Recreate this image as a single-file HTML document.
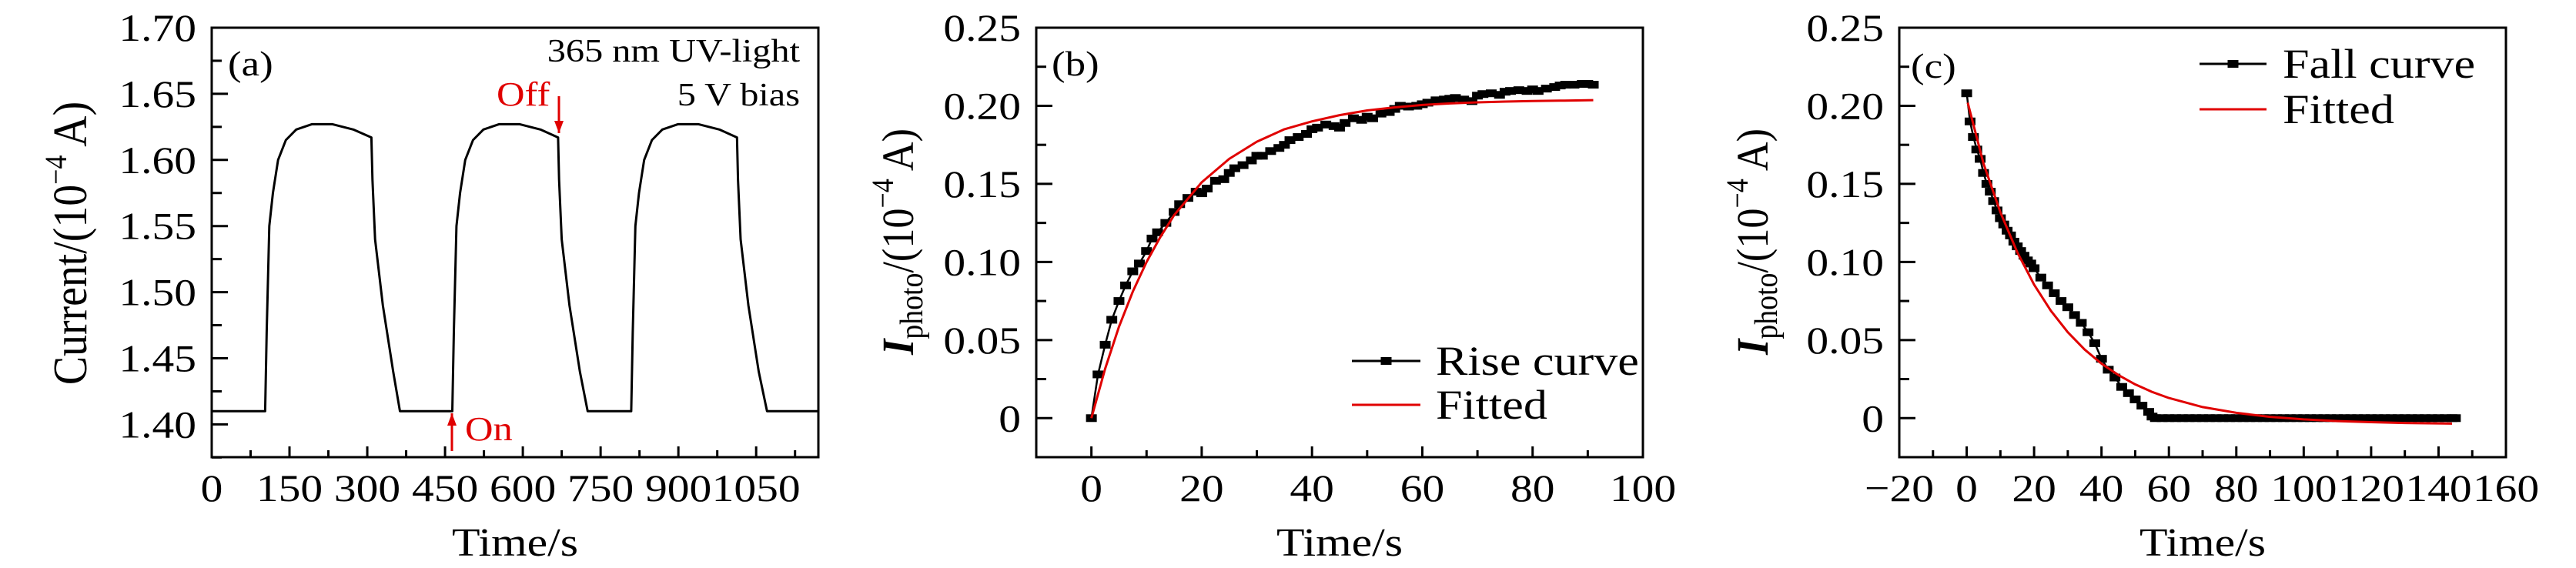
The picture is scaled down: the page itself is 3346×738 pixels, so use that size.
<!DOCTYPE html>
<html><head><meta charset="utf-8"><style>
html,body{margin:0;padding:0;background:#fff;}
svg{display:block;font-family:"Liberation Serif",serif;}
</style></head><body>
<svg id="fig" width="3346" height="738" viewBox="0 0 3346 738" xmlns="http://www.w3.org/2000/svg"></svg>
<script>
// ---- Panel (a) data ----
const aTime = [0,103,106,111,118,128,143,163,193,233,273,308,310,315,330,350,363,464,467,472,479,489,504,524,554,594,634,668,670,675,690,710,725,809,812,817,824,834,849,869,899,939,979,1013,1015,1020,1035,1055,1071,1170];
const aCurrent = [1.41,1.41,1.47,1.55,1.575,1.60,1.615,1.623,1.627,1.627,1.623,1.617,1.585,1.54,1.49,1.44,1.41,1.41,1.47,1.55,1.575,1.60,1.615,1.623,1.627,1.627,1.623,1.617,1.585,1.54,1.49,1.44,1.41,1.41,1.47,1.55,1.575,1.60,1.615,1.623,1.627,1.627,1.623,1.617,1.585,1.54,1.49,1.44,1.41,1.41];
const aXTicks = [0,150,300,450,600,750,900,1050];
const aYTicks = [1.40,1.45,1.50,1.55,1.60,1.65,1.70];
const aYTickLabels = ["1.40","1.45","1.50","1.55","1.60","1.65","1.70"];
// ---- Panel (b) data ----
const bTime = [0,1.2,2.5,3.7,5,6.2,7.5,8.7,10,11,12,13.5,15,16,17.5,19,20,21,22.5,24,25,26,27.5,29,30,31,32.5,34,35,36,37.5,39,40,41,42.5,44,45,46,47.5,49,50,51,52.5,54,55,56,57.5,59,60,61,62.5,64,65,66,67.5,69,70,71,72.5,74,75,76,77.5,79,80,81,82.5,84,85,86,87.5,89,90,91];
const bRise = [0,0.028,0.047,0.063,0.075,0.085,0.094,0.099,0.107,0.115,0.119,0.125,0.132,0.137,0.141,0.145,0.144,0.147,0.152,0.153,0.157,0.160,0.162,0.165,0.168,0.168,0.171,0.173,0.175,0.178,0.180,0.182,0.185,0.186,0.188,0.187,0.186,0.189,0.192,0.191,0.193,0.192,0.195,0.196,0.198,0.200,0.1995,0.200,0.201,0.202,0.2035,0.204,0.2045,0.205,0.204,0.203,0.2065,0.2075,0.208,0.207,0.209,0.2095,0.210,0.2095,0.2105,0.2095,0.211,0.212,0.213,0.2135,0.2135,0.214,0.214,0.2135];
const bFitTime = [0,2.5,5,7.5,10,12.5,15,20,25,30,35,40,45,50,55,60,65,70,75,80,85,91];
const bFit = [0,0.0317,0.0586,0.081,0.100,0.116,0.130,0.151,0.166,0.177,0.185,0.190,0.194,0.197,0.199,0.2005,0.2015,0.2022,0.2027,0.2031,0.2033,0.2036];
const bXTicks = [0,20,40,60,80,100];
const pYTicks = [0,0.05,0.10,0.15,0.20,0.25];
const pYTickLabels = ["0","0.05","0.10","0.15","0.20","0.25"];
// ---- Panel (c) data ----
const cTime = [0,1,2,3,4,5,6,7,8,9,10,11,12,13,14,15,16,17,18,19,20,22,24,26,28,30,32,34,36,38,40,42,44,46,48,50,52,54,55,56,58,60,62,64,66,68,70,72,74,76,78,80,82,84,86,88,90,92,94,96,98,100,102,104,106,108,110,112,114,116,118,120,122,124,126,128,130,132,134,136,138,140,142,144,145];
const cFall = [0.208,0.19,0.18,0.172,0.166,0.157,0.150,0.145,0.139,0.133,0.128,0.124,0.120,0.117,0.113,0.110,0.107,0.104,0.101,0.099,0.096,0.090,0.085,0.080,0.075,0.071,0.066,0.061,0.055,0.048,0.038,0.031,0.026,0.020,0.016,0.012,0.008,0.004,0.001,0,0,0,0,0,0,0,0,0,0,0,0,0,0,0,0,0,0,0,0,0,0,0,0,0,0,0,0,0,0,0,0,0,0,0,0,0,0,0,0,0,0,0,0,0,0];
const cFitTime = [0.3,5,10,15,20,25,30,35,40,45,50,55,60,70,80,90,100,110,120,130,144];
const cFit = [0.202,0.163,0.1318,0.1063,0.0855,0.0687,0.055,0.0439,0.0349,0.0276,0.0216,0.0168,0.0129,0.0071,0.0034,0.0008,-0.0008,-0.0019,-0.0026,-0.0031,-0.0035];
const cXTicks = [-20,0,20,40,60,80,100,120,140,160];

const svg = document.getElementById('fig');
const NS = 'http://www.w3.org/2000/svg';
const SX = 1.15;
function mk(tag, attrs, parent){const e=document.createElementNS(NS,tag);for(const k in attrs)e.setAttribute(k,attrs[k]);(parent||svg).appendChild(e);return e;}
function scale(d0,d1,r0,r1){return v=>r0+(v-d0)/(d1-d0)*(r1-r0);}
function stext(parent,x,y,size,str,anchor,fill){
  const e=mk('text',{transform:`translate(${x},${y}) scale(${SX},1)`,'font-size':size,'text-anchor':anchor||'start',fill:fill||'#000'},parent);
  e.textContent=str;return e;}

const TOP=36, BOT=594;
function panel(cfg){
  const g = mk('g',{});
  
  
  const X = scale(cfg.xmin,cfg.xmax,cfg.L,cfg.R), Y = scale(cfg.ymin,cfg.ymax,BOT,TOP);
  const tg = mk('g',{stroke:'#000','stroke-width':3},g);
  
  
  for(let v=cfg.xmin; v<=cfg.xmax+1e-9; v+=cfg.xMinor){
    const isMaj = cfg.xTicks.some(t=>Math.abs(t-v)<1e-6);
    const x=X(v); mk('line',{x1:x,x2:x,y1:BOT,y2:BOT-(isMaj?14:9)},tg);
  }
  for(let v=cfg.yMinorStart; v<=cfg.ymax+1e-9; v+=cfg.yMinor){
    const isMaj = cfg.yTicks.some(t=>Math.abs(t-v)<1e-6);
    const y=Y(v); mk('line',{x1:cfg.L,x2:cfg.L+(isMaj?21:13),y1:y,y2:y},tg);
  }
  cfg.xTicks.forEach(t=>{
    const e=stext(g,X(t),651,50,t<0?'\u2212'+(-t):String(t),'middle');
    
    
  });
  cfg.yTicks.forEach((t,i)=>{
    const e=stext(g,cfg.L-20,Y(t)+17,50,cfg.yLabels[i],'end');
    
    
  });
  const clip = 'clip-'+cfg.name;
  const cp = mk('clipPath',{id:clip},g); mk('rect',{x:cfg.L,y:TOP,width:cfg.R-cfg.L,height:BOT-TOP},cp);
  cfg.series.forEach(s=>{
    const pts = s.x.map((v,i)=>X(v).toFixed(1)+','+Y(s.y[i]).toFixed(1)).join(' ');
    const pl = mk('polyline',{points:pts,fill:'none',stroke:s.color,'stroke-width':s.w,'stroke-linejoin':'round','clip-path':'url(#'+clip+')'},g);
    
    
    if(s.markers){
      const mg = mk('g',{fill:'#000'},g);
      
      
      s.x.forEach((v,i)=>{
        const r = mk('rect',{x:X(v)-7,y:Y(s.y[i])-5,width:14,height:10},mg);
        
        
      });
    }
  });
  const f = mk('rect',{x:cfg.L,y:TOP,width:cfg.R-cfg.L,height:BOT-TOP,fill:'none',stroke:'#000','stroke-width':3},g);
  
  
  const xt = stext(g,(cfg.L+cfg.R)/2,722,52,'Time/s','middle');
  
  
  return {X,Y,g};
}

panel({name:'panel-a',L:275,R:1063,xmin:0,xmax:1170,ymin:1.3752,ymax:1.70,
  xTicks:aXTicks,xMinor:75,yTicks:aYTicks,yLabels:aYTickLabels,yMinorStart:1.375,yMinor:0.025,
  series:[{name:'current-curve',x:aTime,y:aCurrent,color:'#000',w:3}]});
panel({name:'panel-b',L:1346,R:2134,xmin:-10,xmax:100,ymin:-0.025,ymax:0.25,
  xTicks:bXTicks,xMinor:10,yTicks:pYTicks,yLabels:pYTickLabels,yMinorStart:-0.025,yMinor:0.025,
  series:[{name:'rise-curve',x:bTime,y:bRise,color:'#000',w:2.5,markers:true},{name:'rise-fitted',x:bFitTime,y:bFit,color:'#e00000',w:3}]});
panel({name:'panel-c',L:2467,R:3255,xmin:-20,xmax:160,ymin:-0.025,ymax:0.25,
  xTicks:cXTicks,xMinor:10,yTicks:pYTicks,yLabels:pYTickLabels,yMinorStart:-0.025,yMinor:0.025,
  series:[{name:'fall-curve',x:cTime,y:cFall,color:'#000',w:2.5,markers:true},{name:'fall-fitted',x:cFitTime,y:cFit,color:'#e00000',w:3}]});

function txt(x,y,size,str,name,anchor,fill){const e=stext(svg,x,y,size,str,anchor,fill);return e;}
txt(296,98,46,'(a)','panel-label-a');
txt(1366,98,46,'(b)','panel-label-b');
txt(2482,101,46,'(c)','panel-label-c');
txt(1039,80,42,'365 nm UV-light','light-annotation','end');
txt(1039,137,42,'5 V bias','bias-annotation','end');
txt(645,137,44,'Off','off-label','start','#e00000');
txt(604,572,44,'On','on-label','start','#e00000');
function arrow(x,y1,y2,name){const g=mk('g',{stroke:'#e00000',fill:'#e00000','stroke-width':3});
  mk('line',{x1:x,x2:x,y1:y1,y2:y2},g);const d=y2>y1?-1:1;mk('polygon',{points:`${x},${y2} ${x-6},${y2+d*16} ${x+6},${y2+d*16}`,stroke:'none'},g);}
arrow(726,125,173,'off-arrow');
arrow(587,586,537,'on-arrow');
function ytitleA(){const e=mk('text',{transform:'translate(112,316) rotate(-90) scale(0.9,1)','font-size':62,'text-anchor':'middle'});
  
  e.innerHTML='Current/(10<tspan font-size="40" dy="-26">\u22124</tspan><tspan dy="26"> A)</tspan>';}
ytitleA();
function ytitleP(x,name){const e=mk('text',{transform:`translate(${x},314) rotate(-90) scale(0.9,1)`,'font-size':58,'text-anchor':'middle'});
  
  e.innerHTML='<tspan font-weight="bold" font-style="italic">I</tspan><tspan font-size="42" dy="12">photo</tspan><tspan dy="-12">/(10</tspan><tspan font-size="40" dy="-26">\u22124</tspan><tspan dy="26"> A)</tspan>';}
ytitleP(1186,'y-axis-title-b');
ytitleP(2296,'y-axis-title-c');
function legend(x0,x1,tx,y,label,color,marker,name){const g=mk('g',{});
  mk('line',{x1:x0,x2:x1,y1:y,y2:y,stroke:color,'stroke-width':3},g);
  if(marker)mk('rect',{x:(x0+x1)/2-7,y:y-5,width:14,height:10,fill:'#000'},g);
  stext(g,tx,y+18,54,label,'start');}
legend(1756,1845,1865,469,'Rise curve','#000',true,'legend-rise');
legend(1756,1845,1865,526,'Fitted','#e00000',false,'legend-fitted-b');
legend(2857,2944,2965,83,'Fall curve','#000',true,'legend-fall');
legend(2857,2944,2965,142,'Fitted','#e00000',false,'legend-fitted-c');
</script>
</body></html>
